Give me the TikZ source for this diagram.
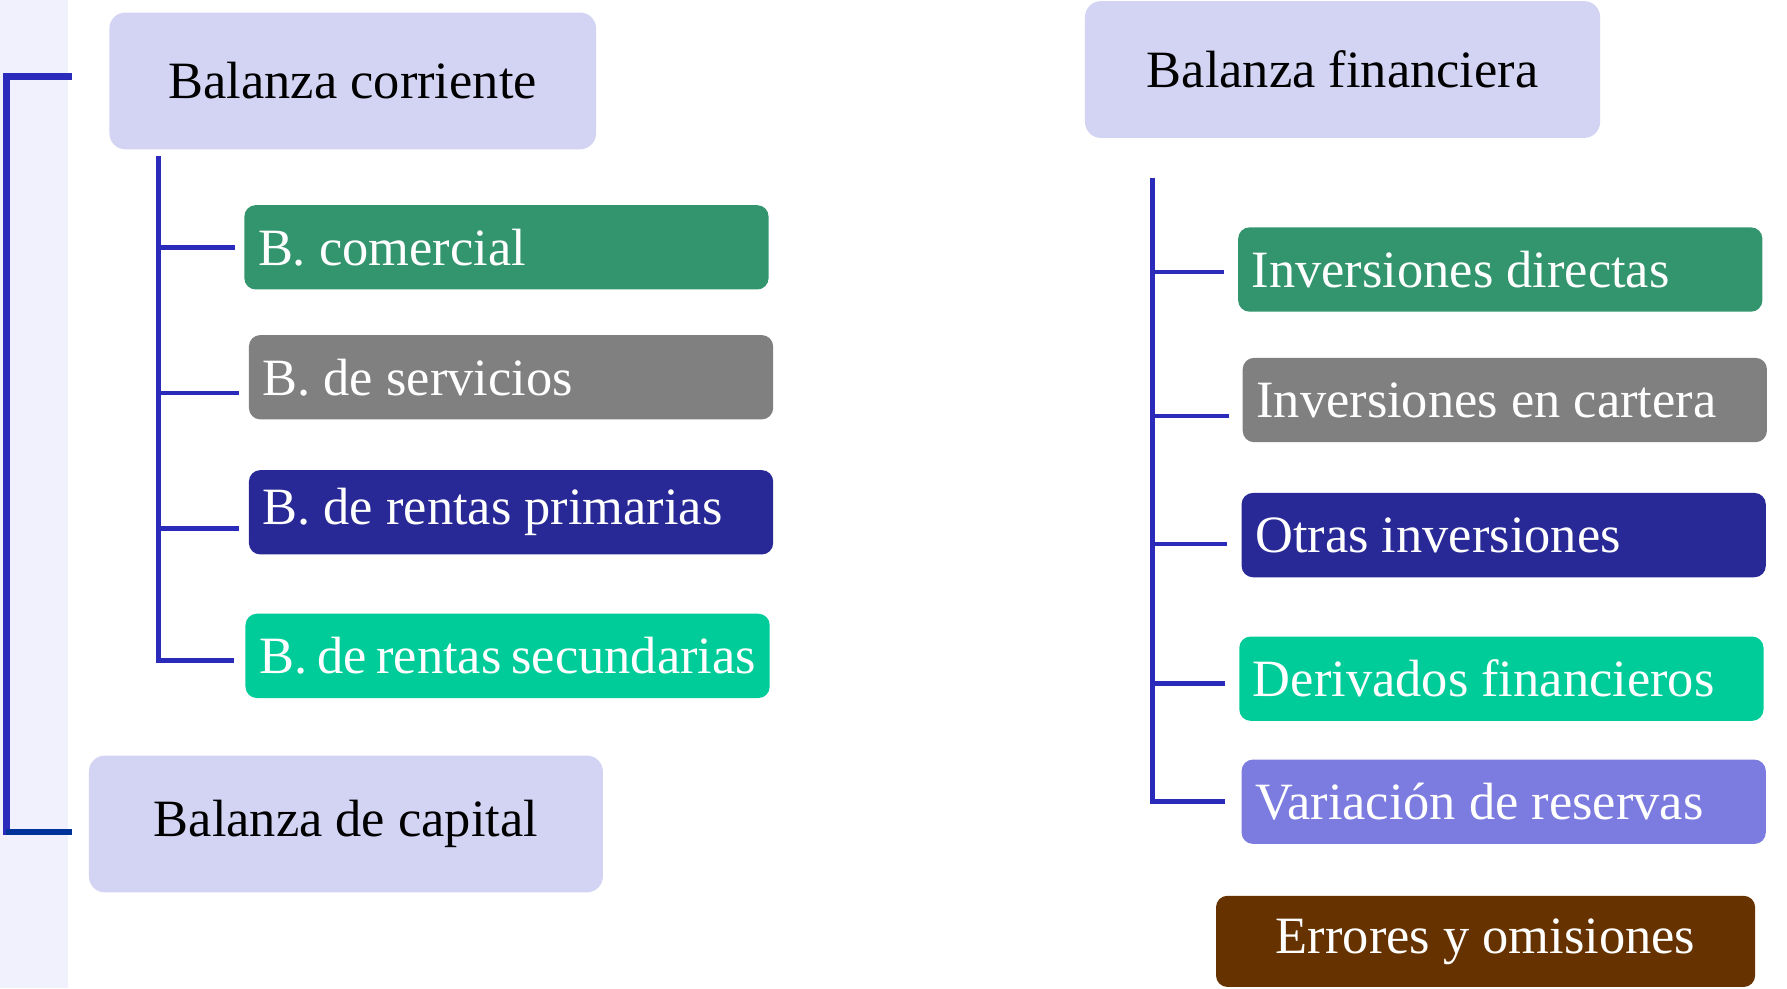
\documentclass[tikz,border=0pt]{standalone}
\usepackage{fontspec}
\setmainfont{Liberation Serif}
\usetikzlibrary{positioning}
\definecolor{lavanda}{HTML}{D3D3F3}
\definecolor{franja}{HTML}{F1F1FD}
\definecolor{azul}{HTML}{2B2BBB}
\definecolor{azuloscuro}{HTML}{003399}
\definecolor{verde}{HTML}{33956E}
\definecolor{gris}{HTML}{808080}
\definecolor{marino}{HTML}{282896}
\definecolor{turquesa}{HTML}{00CC99}
\definecolor{violeta}{HTML}{7B7BE0}
\definecolor{marron}{HTML}{663300}
\frenchspacing
\tikzset{principal/.style={fill=lavanda, rounded corners=7pt,
		minimum height=60pt, font=\fontsize{23}{27}\selectfont},
	cuenta/.style={fill=#1, text=white, rounded corners=5pt, anchor=west,
		inner xsep=6pt, minimum height=37pt, font=\fontsize{23}{27}\selectfont,
		execute at begin node={\hbox to 218pt\bgroup},
		execute at end node={\hfil\egroup}},
	rama/.style={draw=azul, line width=2pt},
	corchete/.style={draw=azul, line width=3pt}}

\begin{document}
\begin{tikzpicture}[x=0.5pt, y=-0.5pt]
	\useasboundingbox (0,0) rectangle (1568,867);
	\fill[franja] (0,0) rectangle (60,867);
	% balanza corriente y de capital
	\node[principal, minimum width=213.5pt] (bcor) at (309.5,71) {Balanza corriente};
	\node[principal, minimum width=225.5pt] (bcap) at (303.5,723) {Balanza de capital};
	\node[cuenta=verde] (bcom) at (214,217) {B. comercial};
	\node[cuenta=gris] (bserv) at (218,331) {B. de servicios};
	\node[cuenta=marino] (bprim) at (218,449.5) {B. de rentas primarias};
	\node[cuenta=turquesa] (bsec) at (215,575.5) {B. de rentas secundarias};
	% balanza financiera
	\node[principal, minimum width=226pt] (bfin) at (1178,61) {Balanza financiera};
	\node[cuenta=verde] (idir) at (1086,236.5) {Inversiones directas};
	\node[cuenta=gris] (icart) at (1090,351) {Inversiones en cartera};
	\node[cuenta=marino] (otras) at (1089,469.5) {Otras inversiones};
	\node[cuenta=turquesa] (deriv) at (1087,595.5) {Derivados financieros};
	\node[cuenta=violeta] (vres) at (1089,703.5) {Variación de reservas};
	\node[principal, fill=marron, text=white, rounded corners=5pt,
		minimum width=236.5pt, minimum height=40pt] (err) at (1303.5,826) {Errores y omisiones};
	% corchete
	\draw[corchete] ([xshift=-16pt,yshift=2pt]bcor.west) -- ++(-29pt,0)
		|- ([xshift=-7pt,yshift=-3.5pt]bcap.west);
	\draw[corchete, draw=azuloscuro] ([xshift=-7pt,yshift=-3.5pt]bcap.west) -- ++(-29pt,0);
	% ramas
	\coordinate (tc) at (139,137);
	\draw[rama] (tc) |- ([xshift=-5pt,yshift=-2pt]bsec.west);
	\foreach \n/\d in {bcom/0, bserv/-7, bprim/-7}{
		\path ([yshift=\d pt]\n.west) coordinate (p);
		\draw[rama] (tc |- p) -- ([xshift=-4pt]p);
	}
	\coordinate (tf) at (1011,156);
	\draw[rama] (tf) |- ([xshift=-7pt]vres.west);
	\foreach \n/\d in {idir/-1, icart/-7, otras/-4, deriv/-2}{
		\path ([yshift=\d pt]\n.west) coordinate (p);
		\draw[rama] (tf |- p) -- ([xshift=-6pt]p);
	}
\end{tikzpicture}
\end{document}
